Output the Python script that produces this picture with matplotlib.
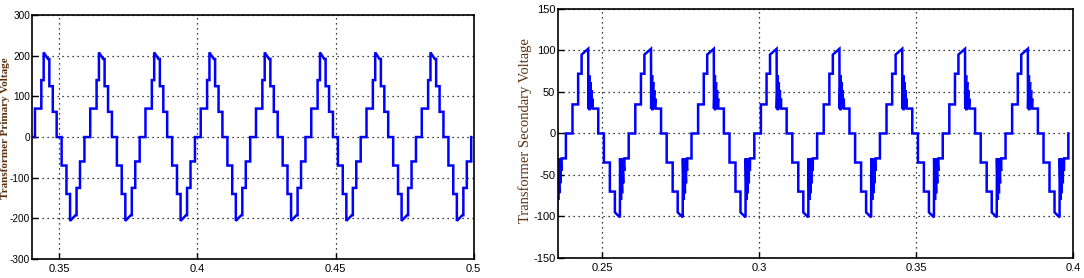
import numpy as np
import matplotlib
matplotlib.use("Agg")
import matplotlib.pyplot as plt

# ---- primary (left): one period of the stepped waveform
# offsets in ms from the rising 0 -> 70 edge, value at that offset
prim_ms = [0.0, 0.0, 2.3, 2.3, 3.15, 3.15, 4.7, 5.2, 5.2, 6.45, 6.45, 7.85, 7.85,
           9.65, 9.65, 11.4, 11.4, 12.7, 12.7, 14.7, 15.05, 15.05, 16.3, 16.3, 17.9, 17.9]
prim_v = [0, 70, 70, 140, 140, 208, 192, 192, 125, 125, 62, 62, 0,
          0, -70, -70, -140, -140, -206, -192, -192, -125, -125, -60, -60, 0]
prim_starts = [0.3212, 0.3412, 0.3612, 0.3812, 0.4012, 0.4212, 0.4412, 0.4612, 0.4812]

# ---- secondary (right): one period, offsets in ms from the -30 -> 0 edge
sec_ms = [0.0, 0.0, 2.1, 2.1, 3.9, 3.9, 5.0, 5.0, 7.1,
          7.15, 7.45, 7.5, 7.8, 7.85, 8.15, 8.2, 8.5, 8.55,
          10.3, 10.3, 12.1, 12.1, 14.0, 14.0, 15.6, 15.6, 17.2,
          17.25, 17.55, 17.6, 17.9, 17.95, 18.25, 18.3, 18.6, 18.65]
sec_v = [-30, 0, 0, 35, 35, 72, 72, 95, 102,
         30, 70, 28, 62, 30, 52, 30, 42, 30,
         30, 0, 0, -35, -35, -70, -70, -95, -101,
         -30, -80, -34, -72, -30, -60, -32, -45, -30]
sec_starts = [0.2185, 0.2385, 0.2585, 0.2785, 0.2985, 0.3185, 0.3385, 0.3585, 0.3785, 0.3985]


def build(starts, ms, vals, t_end):
    t, v = [], []
    for s in starts:
        for m, y in zip(ms, vals):
            if s + m / 1000.0 <= t_end:
                t.append(s + m / 1000.0)
                v.append(y)
    return np.array(t), np.array(v)


t1, v1 = build(prim_starts, prim_ms, prim_v, 0.5)
t2, v2 = build(sec_starts, sec_ms, sec_v, 0.4)

plt.rcParams['font.family'] = ['Liberation Sans', 'DejaVu Sans']
plt.rcParams['axes.unicode_minus'] = False

fig = plt.figure(figsize=(10.84, 2.78), dpi=100)
ax1 = fig.add_axes([0.0292, 0.068, 0.4078, 0.878])
ax2 = fig.add_axes([0.5148, 0.072, 0.4751, 0.8957])

label_color = "#5a3010"

for ax, t, v in ((ax1, t1, v1), (ax2, t2, v2)):
    ax.plot(t, v, color="#0000ff", lw=1.8, solid_joinstyle="miter")
    ax.grid(True, color="black", linestyle=(0, (1, 3)), linewidth=0.9)
    ax.tick_params(direction="in", length=4, labelsize=8, width=1)
    for sp in ax.spines.values():
        sp.set_linewidth(1.2)

ax1.set_xlim(0.34, 0.5)
ax1.set_ylim(-300, 300)
ax1.set_xticks([0.35, 0.4, 0.45, 0.5])
ax1.set_xticklabels(["0.35", "0.4", "0.45", "0.5"])
ax1.set_yticks([-300, -200, -100, 0, 100, 200, 300])
ax1.tick_params(axis="y", pad=1, labelsize=7.2)
fig.text(0.0048, 0.54, "Transformer Primary Voltage", family="Liberation Serif",
         fontweight="bold", fontsize=8, color=label_color,
         rotation=90, ha="center", va="center")

ax2.set_xlim(0.236, 0.4)
ax2.set_ylim(-150, 150)
ax2.set_xticks([0.25, 0.3, 0.35, 0.4])
ax2.set_xticklabels(["0.25", "0.3", "0.35", "0.4"])
ax2.set_yticks([-150, -100, -50, 0, 50, 100, 150])
ax2.tick_params(axis="y", pad=2)
fig.text(0.4845, 0.53, "Transformer Secondary Voltage", family="Liberation Serif",
         fontsize=10.5, color=label_color,
         rotation=90, ha="center", va="center")

fig.savefig("out.png", dpi=100)
